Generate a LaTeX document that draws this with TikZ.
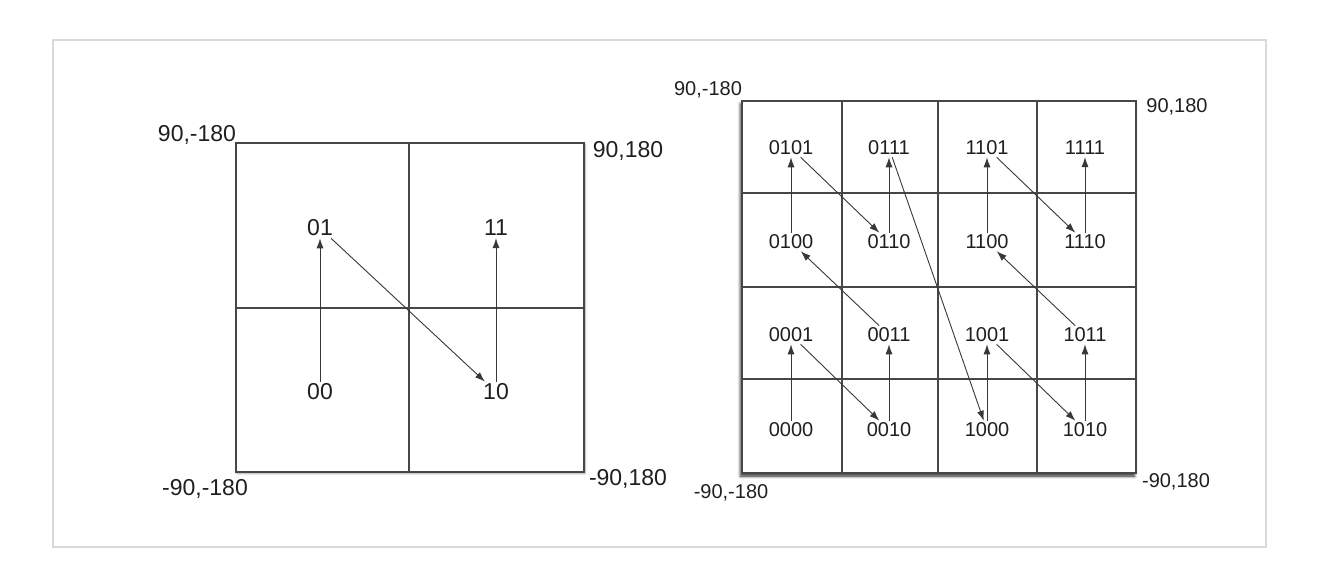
\documentclass[tikz,border=0pt]{standalone}
\usepackage{fontspec}
\setmainfont{Liberation Sans}
\usetikzlibrary{arrows.meta,shadows.blur}

\begin{document}
\begin{tikzpicture}[x=1pt, y=-1pt,
        frame/.style = {draw=black!15, line width=1.6pt},
        gridline/.style = {draw=black!72, line width=1.2pt},
        bigcell/.style = {gridline, fill=white, blur shadow={shadow xshift=1pt, shadow yshift=-1.5pt, shadow blur radius=2pt, shadow opacity=40}},
        smallcell/.style = {gridline, fill=white, blur shadow={shadow xshift=-1.5pt, shadow yshift=-3pt, shadow blur radius=3pt, shadow opacity=85}},
        biglabel/.style = {inner sep=2pt, text=black!88, font=\fontsize{23}{26}\selectfont},
        smalllabel/.style = {inner sep=2pt, text=black!88, font=\fontsize{20}{23}\selectfont},
        line/.style = {draw=black!78, line width=0.9pt, -{Latex[length=10pt,width=7pt]}} % thin arrows, filled tips
    ]
        \useasboundingbox (0,0) rectangle (1320,572);
        \draw [frame] (53,40) rectangle (1266,547);

        % Left grid (2 bits)
        \draw [bigcell] (236,143) rectangle (584,472);
        \draw [gridline] (409,143) -- (409,472);
        \draw [gridline] (236,308) -- (584,308);

        \node [biglabel] (ltl) at (197,135) {90,-180};
        \node [biglabel] (ltr) at (628,151) {90,180};
        \node [biglabel] (lbl) at (205,489) {-90,-180};
        \node [biglabel] (lbr) at (628,479) {-90,180};

        \node [biglabel] (n01) at (320,228) {01};
        \node [biglabel] (n11) at (496,228) {11};
        \node [biglabel] (n00) at (320,392) {00};
        \node [biglabel] (n10) at (496,392) {10};

        \draw [line] (n00) -- (n01);
        \draw [line] (n01) -- (n10);
        \draw [line] (n10) -- (n11);

        % Right grid (4 bits)
        \draw [smallcell] (742,101) rectangle (1136,473);
        \draw [gridline] (842,101) -- (842,473);
        \draw [gridline] (938,101) -- (938,473);
        \draw [gridline] (1037,101) -- (1037,473);
        \draw [gridline] (742,193) -- (1136,193);
        \draw [gridline] (742,287) -- (1136,287);
        \draw [gridline] (742,379) -- (1136,379);

        \node [smalllabel] (rtl) at (708,90) {90,-180};
        \node [smalllabel] (rtr) at (1177,107) {90,180};
        \node [smalllabel] (rbl) at (731,493) {-90,-180};
        \node [smalllabel] (rbr) at (1176,482) {-90,180};

        \node [smalllabel] (n0101) at (791,148) {0101};
        \node [smalllabel] (n0111) at (889,148) {0111};
        \node [smalllabel] (n1101) at (987,148) {1101};
        \node [smalllabel] (n1111) at (1085,148) {1111};
        \node [smalllabel] (n0100) at (791,242) {0100};
        \node [smalllabel] (n0110) at (889,242) {0110};
        \node [smalllabel] (n1100) at (987,242) {1100};
        \node [smalllabel] (n1110) at (1085,242) {1110};
        \node [smalllabel] (n0001) at (791,335) {0001};
        \node [smalllabel] (n0011) at (889,335) {0011};
        \node [smalllabel] (n1001) at (987,335) {1001};
        \node [smalllabel] (n1011) at (1085,335) {1011};
        \node [smalllabel] (n0000) at (791,430) {0000};
        \node [smalllabel] (n0010) at (889,430) {0010};
        \node [smalllabel] (n1000) at (987,430) {1000};
        \node [smalllabel] (n1010) at (1085,430) {1010};

        \draw [line] (n0000) -- (n0001);
        \draw [line] (n0001) -- (n0010);
        \draw [line] (n0010) -- (n0011);
        \draw [line] (n0011) -- (n0100);
        \draw [line] (n0100) -- (n0101);
        \draw [line] (n0101) -- (n0110);
        \draw [line] (n0110) -- (n0111);
        \draw [line] (n0111) -- (n1000);
        \draw [line] (n1000) -- (n1001);
        \draw [line] (n1001) -- (n1010);
        \draw [line] (n1010) -- (n1011);
        \draw [line] (n1011) -- (n1100);
        \draw [line] (n1100) -- (n1101);
        \draw [line] (n1101) -- (n1110);
        \draw [line] (n1110) -- (n1111);
\end{tikzpicture}
\end{document}
